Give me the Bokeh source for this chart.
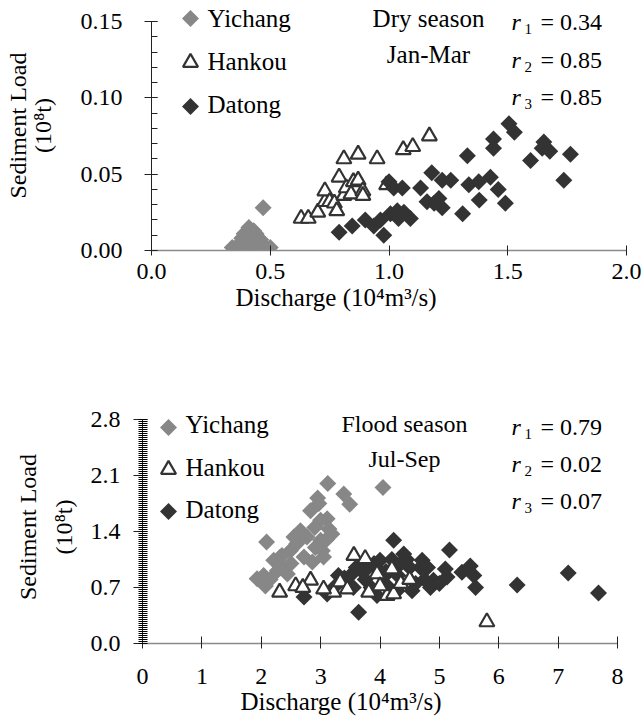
from math import pi
import numpy as np
from bokeh.plotting import figure
from bokeh.models import (Range1d, FixedTicker, Label, LinearAxis, Title,
                          NumeralTickFormatter)
from bokeh.embed import file_html
from bokeh.resources import INLINE

FONT = "Liberation Serif"
AX_FONT = "'Liberation Serif', serif"

# ---------------- data: dry season (Jan-Mar) ----------------
dry_yichang_q = [0.34, 0.36, 0.37, 0.38, 0.39, 0.40, 0.40, 0.41, 0.42, 0.42,
                 0.43, 0.44, 0.45, 0.46, 0.47, 0.48, 0.50,
                 0.38, 0.40, 0.41, 0.43, 0.44, 0.46,
                 0.39, 0.41, 0.42, 0.44, 0.41, 0.43, 0.47]
dry_yichang_s = [0.002, 0.003, 0.002, 0.004, 0.003, 0.002, 0.005, 0.003, 0.002, 0.006,
                 0.004, 0.003, 0.002, 0.004, 0.003, 0.002, 0.002,
                 0.008, 0.009, 0.007, 0.008, 0.006, 0.007,
                 0.011, 0.012, 0.010, 0.011, 0.015, 0.013, 0.028]
dry_hankou_q = [0.63, 0.66, 0.70, 0.73, 0.73, 0.75, 0.77, 0.78, 0.79, 0.81,
                0.81, 0.82, 0.84, 0.85, 0.87, 0.87, 0.89, 0.89, 0.95, 0.99,
                1.06, 1.10, 1.17]
dry_hankou_s = [0.021, 0.021, 0.025, 0.032, 0.039, 0.032, 0.031, 0.026, 0.048, 0.060,
                0.036, 0.041, 0.037, 0.045, 0.063, 0.046, 0.039, 0.036, 0.060, 0.043,
                0.066, 0.068, 0.075]
dry_datong_q = [0.79, 0.845, 0.90, 0.936, 0.964, 0.978, 1.006, 1.035, 1.00, 1.02,
                1.056, 1.04, 1.063, 1.09, 1.133, 1.16, 1.18, 1.19, 1.21, 1.224,
                1.224, 1.26, 1.31, 1.33, 1.336, 1.378, 1.38, 1.427, 1.44, 1.44,
                1.46, 1.49, 1.505, 1.528, 1.596, 1.645, 1.652, 1.677, 1.736, 1.764]
dry_datong_s = [0.012, 0.016, 0.020, 0.016, 0.020, 0.010, 0.024, 0.026, 0.045, 0.041,
                0.041, 0.021, 0.025, 0.021, 0.041, 0.032, 0.051, 0.031, 0.034, 0.046,
                0.028, 0.046, 0.024, 0.062, 0.043, 0.045, 0.033, 0.048, 0.073, 0.067,
                0.040, 0.031, 0.083, 0.0775, 0.059, 0.067, 0.071, 0.065, 0.046, 0.063]
dry_r = ["0.34", "0.85", "0.85"]

# ---------------- data: flood season (Jul-Sep) ----------------
fl_yichang_q = [3.12, 3.39, 3.49, 4.05, 2.95, 2.97, 2.09, 3.11, 3.14, 2.83,
                2.66, 2.77, 3.00, 2.49, 2.60, 2.91, 3.05, 2.32, 2.21, 2.38,
                2.27, 1.93, 2.04, 2.07, 2.72, 3.00, 3.03, 2.86, 2.69, 2.55,
                3.19, 2.44, 2.15, 2.50, 2.90, 3.10, 2.35]
fl_yichang_s = [2.00, 1.87, 1.74, 1.95, 1.82, 1.75, 1.27, 1.56, 1.43, 1.66,
                1.41, 1.33, 1.29, 1.16, 1.25, 1.20, 1.08, 1.08, 1.04, 0.95,
                0.91, 0.81, 0.85, 0.72, 1.08, 1.54, 1.16, 1.02, 1.37, 1.33,
                1.37, 0.87, 0.80, 1.00, 1.45, 1.30, 1.10]
fl_hankou_q = [2.31, 2.58, 2.83, 2.70, 3.22, 3.33, 3.45, 3.56, 3.75, 3.81,
               3.95, 4.12, 4.20, 4.23, 4.35, 4.50, 5.80, 3.05, 4.00]
fl_hankou_s = [0.64, 0.72, 0.79, 0.70, 0.64, 0.77, 0.68, 1.10, 1.06, 0.64,
               0.87, 0.60, 0.93, 0.62, 0.75, 0.80, 0.27, 0.68, 0.72]
fl_datong_q = [2.72, 3.11, 3.25, 3.40, 3.50, 3.55, 3.64, 3.70, 3.75, 3.80,
               3.85, 3.90, 3.95, 4.00, 4.06, 4.10, 4.15, 4.20, 4.23, 4.29,
               4.35, 4.40, 4.45, 4.54, 4.60, 4.68, 4.71, 4.75, 4.85, 4.90,
               5.00, 5.10, 5.13, 5.17, 5.38, 5.52, 5.58, 5.61, 6.31, 7.17,
               7.68, 3.30, 3.60, 4.00, 4.30, 4.50, 4.80]
fl_datong_s = [0.58, 0.62, 0.72, 0.82, 0.85, 0.70, 0.39, 0.90, 0.80, 0.95,
               0.70, 1.00, 0.60, 1.04, 0.83, 0.90, 0.70, 1.05, 1.29, 0.66,
               1.00, 1.12, 1.05, 0.66, 0.75, 0.95, 1.04, 0.80, 0.70, 0.79,
               0.75, 0.93, 0.83, 1.17, 0.89, 0.97, 0.85, 0.70, 0.73, 0.88,
               0.63, 0.85, 0.95, 0.90, 0.85, 0.95, 0.95]
fl_r = ["0.79", "0.02", "0.07"]

stations = ["Yichang", "Hankou", "Datong"]
dry_yticks = [0.0, 0.05, 0.10, 0.15]
dry_xticks = [0.0, 0.5, 1.0, 1.5, 2.0]
fl_yticks = [0.0, 0.7, 1.4, 2.1, 2.8]
fl_xticks = [0, 1, 2, 3, 4, 5, 6, 7, 8]

C_YI = "#878787"
C_DA = "#333333"

X_TITLE = "Discharge (10\u2074m\u00b3/s)"
Y_TITLE_1 = "Sediment Load"
Y_TITLE_2 = "(10\u2078t)"

DY = 9  # baseline correction for Label text (pixels)


def base_fig(width, height, left, right, top, bottom, xr, yr):
    p = figure(width=width, height=height, x_range=Range1d(*xr), y_range=Range1d(*yr),
               output_backend="svg", toolbar_location=None,
               min_border_left=left, min_border_right=right,
               min_border_top=top, min_border_bottom=bottom)
    p.outline_line_color = None
    p.grid.visible = False
    p.background_fill_color = "white"
    p.border_fill_color = "white"
    p.xaxis.major_label_text_font = AX_FONT
    p.yaxis.major_label_text_font = AX_FONT
    p.xaxis.major_label_text_font_size = "24px"
    p.yaxis.major_label_text_font_size = "24px"
    p.xaxis.major_label_text_color = "black"
    p.yaxis.major_label_text_color = "black"
    p.xaxis.major_tick_line_color = "#222222"
    p.yaxis.major_tick_line_color = "#222222"
    p.yaxis.minor_tick_line_color = "#222222"
    p.xaxis.axis_line_color = "#8a8a8a"
    p.xaxis.axis_line_width = 1.5
    p.yaxis.axis_line_color = "#222222"
    return p


def add_text(p, x, y, text, size="24px", align="left", baseline="alphabetic",
             style="normal"):
    p.add_layout(Label(x=x, y=y, x_units="data", y_units="data", text=text,
                       text_font=FONT, text_font_size=size, text_align=align,
                       text_baseline=baseline, text_font_style=style,
                       text_color="black"))


def scatter_set(p, yq, ys, hq, hs, dq, ds, hankou_last):
    p.scatter(yq, ys, marker="square", size=12, angle=pi / 4,
              fill_color=C_YI, line_color=None)
    if hankou_last:
        p.scatter(dq, ds, marker="square", size=12, angle=pi / 4,
                  fill_color=C_DA, line_color=None)
        p.scatter(hq, hs, marker="triangle", size=15, fill_color="white",
                  line_color=C_DA, line_width=2.2)
    else:
        p.scatter(hq, hs, marker="triangle", size=15, fill_color="white",
                  line_color=C_DA, line_width=2.2)
        p.scatter(dq, ds, marker="square", size=12, angle=pi / 4,
                  fill_color=C_DA, line_color=None)


def manual_legend(p, conv, mx, rows, tx, baselines):
    # legend key markers + station names (positions only, no data)
    for name, my, bl in zip(stations, rows, baselines):
        x, y = conv(mx, my)
        if name == "Hankou":
            p.scatter([x], [y], marker="triangle", size=15, fill_color="white",
                      line_color=C_DA, line_width=2.2)
        else:
            p.scatter([x], [y], marker="square", size=12, angle=pi / 4,
                      fill_color=C_YI if name == "Yichang" else C_DA, line_color=None)
        add_text(p, *conv(tx, bl - DY), name, size="25px")


def y_titles(p, s1, s2):
    ax = p.yaxis[0]
    ax.axis_label = Y_TITLE_2
    ax.axis_label_standoff = s1
    ax.axis_label_text_font = FONT
    ax.axis_label_text_font_size = "24px"
    ax.axis_label_text_font_style = "normal"
    ax.axis_label_text_color = "black"
    ax2 = LinearAxis(axis_label=Y_TITLE_1, ticker=FixedTicker(ticks=[], minor_ticks=[]),
                     axis_line_color=None, major_tick_line_color=None,
                     minor_tick_line_color=None, major_tick_out=0, major_tick_in=0,
                     minor_tick_out=0, minor_tick_in=0, major_label_standoff=0,
                     axis_label_standoff=s2, axis_label_text_font=FONT,
                     axis_label_text_font_size="24px", axis_label_text_font_style="normal",
                     axis_label_text_color="black")
    p.add_layout(ax2, "left")


def x_title(p, offset, standoff):
    kw = dict(text=X_TITLE, align="left", offset=offset, text_font=FONT,
              text_font_size="25px", text_font_style="normal", text_color="black")
    if "standoff" in Title.properties():
        kw["standoff"] = standoff
    p.add_layout(Title(**kw), "below")


def r_block(p, conv, baselines, values):
    for i, (bl, val) in enumerate(zip(baselines, values)):
        add_text(p, *conv(511, bl - DY), "r", style="italic")
        add_text(p, *conv(524, bl + 7 - DY), str(i + 1), size="15px")
        add_text(p, *conv(540, bl - DY), "= " + val)


# ====================== top panel (dry season) ======================
W = 644
T_LEFT, T_RIGHT, T_TOP, T_BOT, T_H = 151, 18, 0, 70, 320
T_SCALE = 229 / 0.15
top = base_fig(W, T_H, T_LEFT, T_RIGHT, T_TOP, T_BOT, (0, 2.0), (0, 250 / T_SCALE))
top.xaxis.ticker = FixedTicker(ticks=dry_xticks, minor_ticks=[])
top.yaxis.ticker = FixedTicker(ticks=dry_yticks,
                               minor_ticks=[round(v, 3) for v in np.arange(0, 0.1501, 0.01)])
top.xaxis.formatter = NumeralTickFormatter(format="0.0")
top.yaxis.formatter = NumeralTickFormatter(format="0.00")
top.yaxis.bounds = (0, 0.15)
top.xaxis.major_tick_in = 5
top.xaxis.major_tick_out = 5
top.xaxis.minor_tick_in = 0
top.xaxis.minor_tick_out = 0
top.xaxis.major_label_standoff = 8
top.yaxis.major_tick_in = 6
top.yaxis.major_tick_out = 7
top.yaxis.minor_tick_in = 6
top.yaxis.minor_tick_out = 0
top.yaxis.major_label_standoff = 22

scatter_set(top, dry_yichang_q, dry_yichang_s, dry_hankou_q, dry_hankou_s,
            dry_datong_q, dry_datong_s, hankou_last=False)


def T(px, py):
    return (px - 151) / 237.5, (250 - py) / T_SCALE


manual_legend(top, T, 190, [18, 62, 106], 207, [27, 70, 113])
add_text(top, *T(428, 27 - DY), "Dry season", align="center", size="25px")
add_text(top, *T(428, 63 - DY), "Jan-Mar", align="center", size="25px")
r_block(top, T, [30, 68, 105], dry_r)
y_titles(top, 22, -4)
x_title(top, 84, 1)

# ====================== bottom panel (flood season) ======================
B_LEFT, B_RIGHT, B_TOP, B_BOT, B_H = 142, 27, 90, 81, 404
bot = base_fig(W, B_H, B_LEFT, B_RIGHT, B_TOP, B_BOT, (0, 8), (0, 233 / 80.0))
bot.xaxis.ticker = FixedTicker(ticks=fl_xticks, minor_ticks=[])
bot.yaxis.ticker = FixedTicker(ticks=fl_yticks,
                               minor_ticks=[round(v, 4) for v in np.arange(0, 2.8001, 0.025)])
bot.xaxis.formatter = NumeralTickFormatter(format="0")
bot.yaxis.formatter = NumeralTickFormatter(format="0.0")
bot.yaxis.bounds = (0, 2.8)
bot.xaxis.major_tick_in = 7
bot.xaxis.major_tick_out = 5
bot.xaxis.minor_tick_in = 0
bot.xaxis.minor_tick_out = 0
bot.xaxis.major_label_standoff = 20
bot.yaxis.major_tick_in = 5
bot.yaxis.major_tick_out = 9
bot.yaxis.minor_tick_in = 5
bot.yaxis.minor_tick_out = 4
bot.yaxis.minor_tick_line_color = "black"
bot.yaxis.minor_tick_line_width = 1.2
bot.yaxis.major_label_standoff = 13

scatter_set(bot, fl_yichang_q, fl_yichang_s, fl_hankou_q, fl_hankou_s,
            fl_datong_q, fl_datong_s, hankou_last=True)


def B(px, py):
    return (px - 142) / 59.375, (643 - py) / 80.0


manual_legend(bot, B, 168, [427, 469, 511], 185, [433, 476, 518])
add_text(bot, *B(404, 432 - DY), "Flood season", align="center")
add_text(bot, *B(404, 467 - DY), "Jul-Sep", align="center")
r_block(bot, B, [435, 472, 509], fl_r)
y_titles(bot, 11, 7)
x_title(bot, 98, -2)

open("out.html", "w").write(file_html([top, bot], INLINE))
